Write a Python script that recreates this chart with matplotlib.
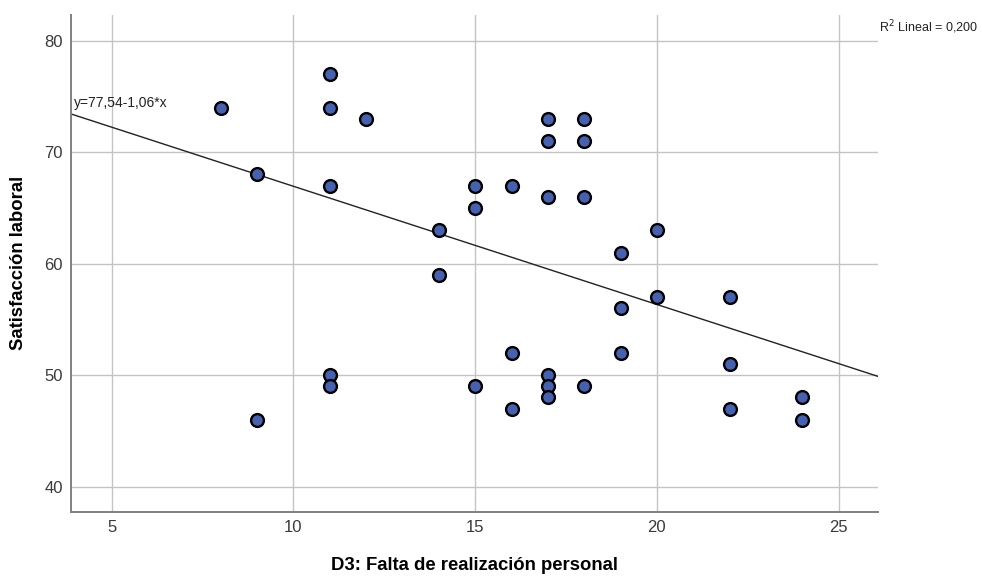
import matplotlib
matplotlib.use("Agg")
import matplotlib.pyplot as plt
import numpy as np

# D3 score vs job satisfaction, one entry per respondent
d3_realizacion = [8, 11, 11, 12, 9, 11, 15, 15, 14, 14,
                  17, 18, 17, 18, 16, 17, 18, 20, 19,
                  9, 11, 11, 15,
                  20, 19, 22, 16, 19, 22, 17, 17, 17, 18, 16, 22, 24, 24]
satisfaccion = [74, 77, 74, 73, 68, 67, 67, 65, 63, 59,
                73, 73, 71, 71, 67, 66, 66, 63, 61,
                46, 50, 49, 49,
                57, 56, 57, 52, 52, 51, 50, 49, 48, 49, 47, 47, 48, 46]

# linear fit as reported
intercept = 77.54
slope = -1.06
r2 = 0.200

x_ticks = [5, 10, 15, 20, 25]
y_ticks = [40, 50, 60, 70, 80]
x_lim = (3.88, 26.08)
y_lim = (37.75, 82.3)

plt.rcParams['font.family'] = ['Liberation Sans', 'DejaVu Sans']

fig = plt.figure(figsize=(9.82, 5.77), dpi=100)
ax = fig.add_axes([0.0723, 0.113, 0.8217, 0.861])

ax.set_xlim(*x_lim)
ax.set_ylim(*y_lim)
ax.set_xticks(x_ticks)
ax.set_yticks(y_ticks)
ax.grid(True, color='#c4c4c4', linewidth=1.0)
ax.set_axisbelow(True)
ax.tick_params(length=0, labelsize=12, labelcolor='#3a3a3a', pad=6)

for side in ['top', 'right']:
    ax.spines[side].set_visible(False)
for side in ['left', 'bottom']:
    ax.spines[side].set_color('#808080')
    ax.spines[side].set_linewidth(1.4)

# fit line over the full x range
xs = np.array(x_lim)
ax.plot(xs, intercept + slope * xs, color='#222222', linewidth=1.0, zorder=2)

ax.scatter(d3_realizacion, satisfaccion, s=85, color='#4661b0',
           edgecolor='black', linewidth=1.7, zorder=3)

ax.text(3.95, 74.4, 'y=77,54-1,06*x', fontsize=10, color='#222222',
        ha='left', va='center')
fig.text(879 / 982, 1 - 27 / 577, 'R$^2$ Lineal = %s' % f'{r2:.3f}'.replace('.', ','),
         fontsize=9, color='#222222', ha='left', va='center')

ax.set_xlabel('D3: Falta de realización personal', fontsize=13.3,
              fontweight='bold', labelpad=16)
ax.set_ylabel('Satisfacción laboral', fontsize=13.3, fontweight='bold',
              labelpad=12)

fig.savefig('out.png', dpi=100)
